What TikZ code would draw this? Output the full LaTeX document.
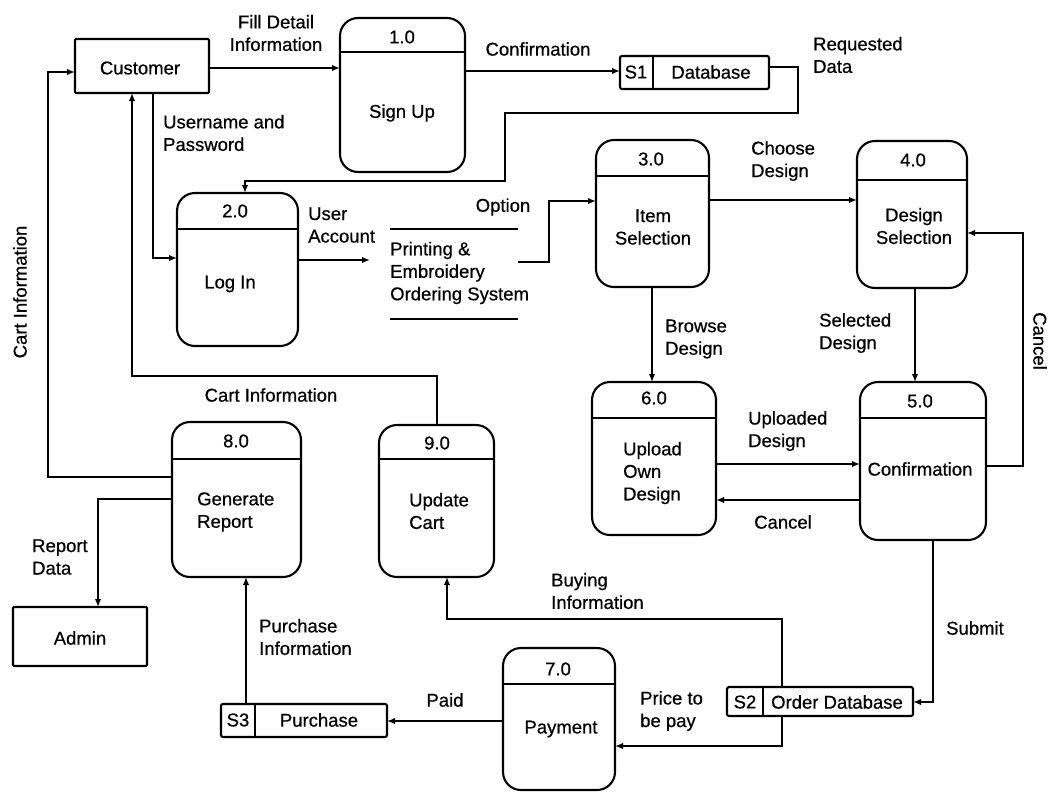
\documentclass[tikz,border=0pt]{standalone}
\usepackage{fontspec}
\setmainfont[FakeBold=0.6]{Liberation Sans}
\usetikzlibrary{arrows.meta}

% process box: name, left, top, width, height, divider y
\newcommand\procbox[6]{%
  \node[proc, minimum width=#4pt, minimum height=#5pt, anchor=north west] (#1) at (#2,#3) {};
  \draw[divider] (#1.west |- 0,#6) -- (#1.east |- 0,#6);
}
% data store: name, left, top, width, height, divider x
\newcommand\storebox[6]{%
  \node[store, minimum width=#4pt, minimum height=#5pt, anchor=north west] (#1) at (#2,#3) {};
  \draw[divider] (#6,0 |- #1.north) -- (#6,0 |- #1.south);
}

\begin{document}
\begin{tikzpicture}[x=1pt,y=-1pt,
  font=\fontsize{18.5}{22.5}\selectfont,
  proc/.style={draw, line width=2.1pt, rounded corners=18pt, inner sep=0pt, outer sep=0pt},
  store/.style={draw, line width=2.1pt, rounded corners=2pt, inner sep=0pt, outer sep=0pt},
  entity/.style={draw, line width=2.1pt, rounded corners=1pt, inner sep=0pt, outer sep=0pt},
  divider/.style={line width=2.1pt},
  flow/.style={line width=1.9pt, -{Latex[length=8pt,width=6.5pt]}},
  lbl/.style={inner sep=0pt, align=left},
  clbl/.style={inner sep=0pt, align=center},
]
\fill[white] (0,0) rectangle (1051,795);
\useasboundingbox (0,0) rectangle (1051,795);

% external entities
\node[entity, minimum width=134pt, minimum height=54pt, anchor=north west] (cust) at (75,39) {};
\node (custtxt) at (140,68) {Customer};
\node[entity, minimum width=134pt, minimum height=59pt, anchor=north west] (admin) at (13,607) {};
\node (admintxt) at (80,638) {Admin};

% processes
\procbox{p1}{340}{18}{125}{154}{52}
\node (p1n) at (402,37) {1.0};
\node[clbl] (p1t) at (402,113) {Sign Up};

\procbox{p2}{177}{193}{121}{153}{229}
\node (p2n) at (235,211) {2.0};
\node[clbl] (p2t) at (230,284) {Log In};

\procbox{p3}{596}{140}{113}{147}{176}
\node (p3n) at (651,159) {3.0};
\node[clbl] (p3t) at (653,227) {Item\\Selection};

\procbox{p4}{857}{141}{110}{147}{180}
\node (p4n) at (913,160) {4.0};
\node[clbl] (p4t) at (914,226) {Design\\Selection};

\procbox{p5}{860}{382}{126}{158}{418}
\node (p5n) at (920,401) {5.0};
\node[clbl] (p5t) at (920,469) {Confirmation};

\procbox{p6}{592}{382}{124}{153}{418}
\node (p6n) at (654,398) {6.0};
\node[lbl, anchor=west] (p6t) at (623,473) {Upload\\Own\\Design};

\procbox{p7}{503}{648}{112}{142}{684}
\node (p7n) at (558,669) {7.0};
\node[clbl] (p7t) at (561,729) {Payment};

\procbox{p8}{172}{422}{129}{155}{459}
\node (p8n) at (236,441) {8.0};
\node[lbl, anchor=west] (p8t) at (197,512) {Generate\\Report};

\procbox{p9}{379}{425}{115}{152}{459}
\node (p9n) at (437,443) {9.0};
\node[lbl, anchor=west] (p9t) at (409,511) {Update\\Cart};

% data stores
\storebox{s1}{620}{56}{149}{33}{653}
\node (s1id) at (636,72) {S1};
\node (s1name) at (711,72) {Database};

\storebox{s2}{727}{687}{186}{29}{763}
\node (s2id) at (745,702) {S2};
\node (s2name) at (837,702) {Order Database};

\storebox{s3}{221}{704}{166}{33}{255}
\node (s3id) at (238,720) {S3};
\node (s3name) at (319,720) {Purchase};

% system store (open-ended)
\node[inner sep=0pt, outer sep=0pt, minimum width=128pt, minimum height=90pt] (pes) at (454,274) {};
\draw[divider] (pes.north west) -- (pes.north east);
\draw[divider] (pes.south west) -- (pes.south east);
\node[lbl, anchor=west] (pestxt) at (390,273) {Printing \&\\Embroidery\\Ordering System};
\coordinate (pesin) at (370,260);

% data flows
\draw[flow] (cust.east |- 0,68) -- (p1.west |- 0,68);
\draw[flow] (p1.east |- 0,71) -- (s1.west |- 0,71);
\draw[flow] (s1.east |- 0,67) -- (798,67) -- (798,113) -- (505,113) -- (505,181) -- (245,181) -- (p2.north -| 245,0);
\draw[flow] (cust.south -| 153,0) |- (p2.west |- 0,258);
\draw[flow] (p2.east |- 0,260) -- (pesin);
\draw[flow] (pes.east |- 0,262) -- (549,262) -- (549,201) -- (p3.west |- 0,201);
\draw[flow] (p3.east |- 0,200) -- (p4.west |- 0,200);
\draw[flow] (p3.south -| 652,0) -- (p6.north -| 652,0);
\draw[flow] (p4.south -| 915,0) -- (p5.north -| 915,0);
\draw[flow] (p6.east |- 0,464) -- (p5.west |- 0,464);
\draw[flow] (p5.west |- 0,500) -- (p6.east |- 0,500);
\draw[flow] (p5.east |- 0,466) -- (1023,466) -- (1023,233) -- (p4.east |- 0,233);
\draw[flow] (p5.south -| 933,0) |- (s2.east |- 0,702);
\draw[flow] (s2.north -| 782,0) -- (782,619) -- (447,619) -- (p9.south -| 447,0);
\draw[flow] (s2.south -| 782,0) |- (p7.east |- 0,746);
\draw[flow] (p7.west |- 0,721) -- (s3.east |- 0,721);
\draw[flow] (s3.north -| 246,0) -- (p8.south -| 246,0);
\draw[flow] (p9.north -| 437,0) -- (437,376) -- (132,376) -- (cust.south -| 132,0);
\draw[flow] (p8.west |- 0,477) -- (48,477) -- (48,72) -- (cust.west |- 0,72);
\draw[flow] (p8.west |- 0,499) -| (admin.north -| 98,0);

% flow labels
\node[clbl] (lfill) at (276,33) {Fill Detail\\Information};
\node[clbl] (lconf) at (538,49) {Confirmation};
\node[lbl, anchor=west] (lreq) at (813,55) {Requested\\Data};
\node[lbl, anchor=west] (luser) at (163,133) {Username and\\Password};
\node[lbl, anchor=west] (lacc) at (308,225) {User\\Account};
\node[clbl] (lopt) at (503,207) {Option};
\node[lbl, anchor=west] (lchoose) at (751,161) {Choose\\Design};
\node[lbl, anchor=west] (lbrowse) at (665,339) {Browse\\Design};
\node[lbl, anchor=west] (lsel) at (819,333) {Selected\\Design};
\node[lbl, anchor=west] (lup) at (748,431) {Uploaded\\Design};
\node[clbl] (lcan1) at (783,522) {Cancel};
\node[clbl, rotate=-90] (lcan2) at (1040,341) {Cancel};
\node[clbl] (lcart1) at (271,395) {Cart Information};
\node[clbl, rotate=90] (lcart2) at (20,292) {Cart Information};
\node[lbl, anchor=west] (lrep) at (32,557) {Report\\Data};
\node[lbl, anchor=west] (lbuy) at (551,591) {Buying\\Information};
\node[lbl, anchor=west] (lsub) at (946,628) {Submit};
\node[lbl, anchor=west] (lpur) at (259,637) {Purchase\\Information};
\node[clbl] (lpaid) at (445,700) {Paid};
\node[lbl, anchor=west] (lprice) at (640,711) {Price to\\be pay};
\end{tikzpicture}
\end{document}
